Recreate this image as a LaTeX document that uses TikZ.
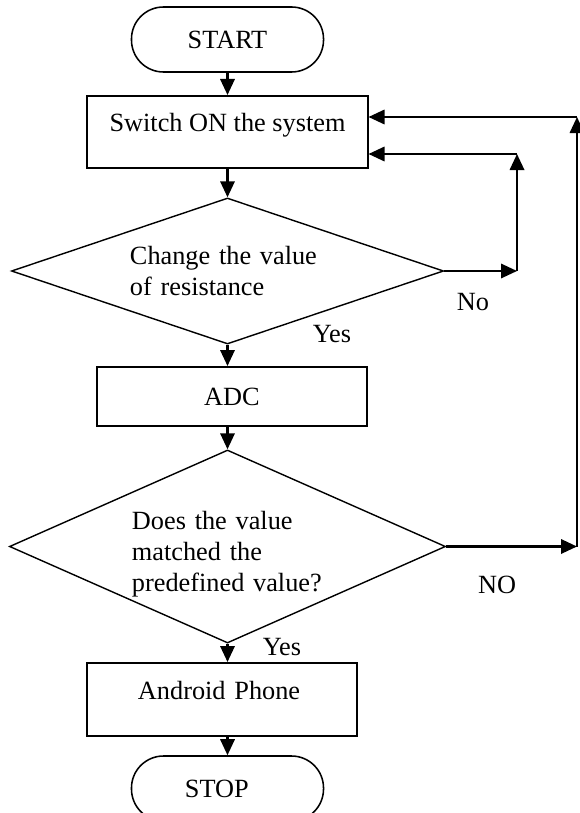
\documentclass[tikz,border=0pt]{standalone}
\usepackage{fontspec}
\setmainfont{Liberation Serif}
\usetikzlibrary{arrows.meta,shapes.geometric}
\begin{document}
\begin{tikzpicture}[x=0.025cm,y=-0.025cm,font=\fontsize{18.7}{22}\selectfont,
  term/.style={shape=rectangle,draw,line width=1.1pt,rounded corners=0.8cm,inner sep=0pt,minimum width=4.8cm,minimum height=1.625cm},
  proc/.style={shape=rectangle,draw,line width=1.4pt,inner sep=0pt},
  decision/.style={shape=diamond,draw,line width=1pt,inner sep=0pt,align=left},
  flow/.style={->,>={Triangle[length=0.4cm,width=0.36cm]},line width=1.5pt}]
\useasboundingbox (0,0) rectangle (579,813);
\node(start) [term] at (227.5,39.5) {START};
\node(switch) [proc,minimum width=7cm,minimum height=1.8cm,text height=0.5cm,text depth=0.5cm] at (227.5,132) {Switch ON the system};
\node(change) [decision,aspect=2.96,minimum width=10.8cm,minimum height=3.65cm,text width=4.875cm] at (227.5,271) {Change the value\\of resistance};
\node(adc) [proc,minimum width=6.75cm,minimum height=1.475cm] at (232,396.5) {ADC};
\node(match) [decision,aspect=2.26,minimum width=10.9cm,minimum height=4.825cm,text width=4.775cm] at (227.5,546.5) {\rule{0pt}{0.83cm}Does the value\\matched the\\predefined value?};
\node(phone) [proc,minimum width=6.75cm,minimum height=1.825cm,text height=0.5cm,text depth=0.5cm,text width=4.2cm,align=left] at (222,699.5) {Android Phone};
\node(stop) [term,text width=2.125cm,align=left] at (227.5,788.5) {STOP};
% main column
\draw [flow] (start) -- (switch);
\draw [flow] (switch) -- (change);
\draw [flow] (change.south) -- (change.south |- adc.north);
\draw [flow] (match.north |- adc.south) -- (match.north);
\draw [flow] (match.south) -- (match.south |- phone.north);
\draw [flow] (stop.north |- phone.south) -- (stop.north);
% loops back to the system
\coordinate(noa) at (517,271);
\coordinate(nob) at (517,154);
\draw [flow] (change.east) -- (noa);
\draw [flow] (noa) -- (nob);
\draw [flow] (nob) -- (nob -| switch.east);
\coordinate(noc) at (577,546.5);
\coordinate(nod) at (577,117);
\draw [flow] (match.east) -- (noc);
\draw [flow] (noc) -- (nod);
\draw [flow] (nod) -- (nod -| switch.east);
\node(no1) at (473,302) {No};
\node(yes1) at (332,334) {Yes};
\node(no2) at (497,585) {NO};
\node(yes2) at (282,647) {Yes};
\end{tikzpicture}
\end{document}
